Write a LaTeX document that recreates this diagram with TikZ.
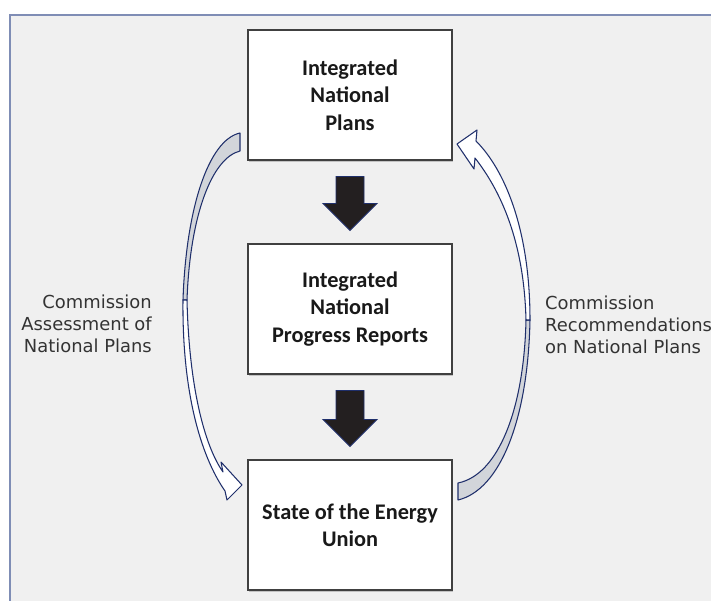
\documentclass[tikz,border=0pt]{standalone}
\usepackage{fontspec}
\setmainfont{Carlito}
\newfontfamily\notefont{DejaVu Sans}
\usetikzlibrary{calc,shadows}
\definecolor{panel}{HTML}{F0F0F0}
\definecolor{frameblue}{HTML}{7F8DB5}
\definecolor{navy}{HTML}{1F2F6B}
\definecolor{tailgray}{HTML}{D2D5DA}
\definecolor{arrowblack}{HTML}{231F20}
\begin{document}
\begin{tikzpicture}[x=0.02cm,y=-0.02cm,
    stage/.style={draw=black!75,fill=white,line width=0.6pt,minimum width=4.08cm,minimum height=2.6cm,
      align=center,font=\bfseries\fontsize{12.7}{15.6}\selectfont,text=black!90,
      drop shadow={shadow xshift=0.4pt,shadow yshift=-1.2pt,opacity=0.4}},
    note/.style={font=\notefont\fontsize{10.2}{12.6}\selectfont,text=black!80},
    blockarrow/.style={fill=arrowblack,draw=navy,line width=0.5pt,line join=miter},
    bandback/.style={fill=tailgray,draw=navy,line width=0.6pt,line join=round},
    bandfront/.style={fill=white,draw=navy,line width=0.6pt,line join=round}]
  \useasboundingbox (0,0) rectangle (711,601);
  \fill[white] (0,0) rectangle (711,601);
  \fill[panel] (10,15) rectangle (711,601);
  \draw[frameblue,line width=1.2pt] (10,601) -- (10,15) -- (711,15);

  % the three stages
  \node[stage] (plans) at (350,95) {Integrated\\National\\Plans};
  \node[stage] (reports) at (350,309) {Integrated\\National\\Progress Reports};
  \node[stage] (state) at (350,525) {State of the Energy\\Union};

  % block arrows between the stages
  \foreach \a/\b in {plans/reports,reports/state}
    \draw[blockarrow] ($(\a.south)+(-14,16)$) -- ($(\a.south)+(14,16)$) -- ($(\b.north)+(14,-40)$)
      -- ($(\b.north)+(27,-40)$) -- ($(\b.north)+(0,-13)$) -- ($(\b.north)+(-27,-40)$)
      -- ($(\b.north)+(-14,-40)$) -- cycle;

  % left bent arrow
  \draw[bandback] (240,133) .. controls (208,140) and (186,210) .. (183,300)
    -- (187,300) .. controls (190,215) and (212,158) .. (240,151) -- cycle;
  \draw[bandfront] (183,300) .. controls (182,390) and (200,455) .. (225,491)
    -- (227,500) -- (242,485) -- (221,462) -- (223,472)
    .. controls (204,445) and (189,385) .. (187,300) -- cycle;

  % right bent arrow
  \draw[bandback] (458,500) .. controls (500,490) and (528,420) .. (530,320)
    -- (526,320) .. controls (524,410) and (498,475) .. (458,483) -- cycle;
  \draw[bandfront] (530,320) .. controls (530,230) and (505,170) .. (476,141)
    -- (477,130) -- (457,144) -- (474,169) -- (475,158)
    .. controls (500,190) and (524,240) .. (526,320) -- cycle;

  \node[note,anchor=east,align=right] at (158,324) {Commission\\Assessment of\\National Plans};
  \node[note,anchor=west,align=left] at (539,325) {Commission\\Recommendations\\on National Plans};
\end{tikzpicture}
\end{document}
